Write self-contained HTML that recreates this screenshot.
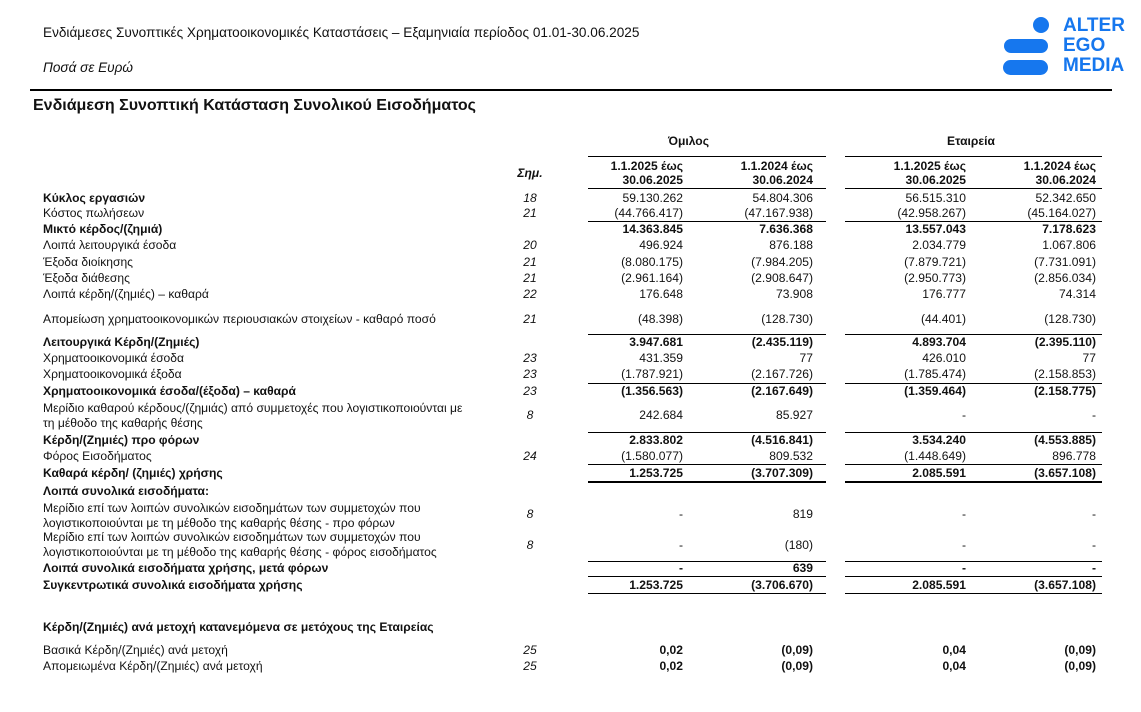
<!DOCTYPE html>
<html><head><meta charset="utf-8"><style>
body{margin:0;width:1141px;height:712px;background:#fff;position:relative;overflow:hidden;font-family:"Liberation Sans","DejaVu Sans",sans-serif;color:#111;}
div{position:absolute;white-space:nowrap;}
.r{font-size:12.1px;line-height:14px;height:14px;left:0;width:1141px;}
.r span{position:absolute;}
.l{left:43px;}
.n{left:510px;width:40px;text-align:center;font-style:italic;}
.a{right:458px;}.b{right:328px;}.c{right:175px;}.d{right:45px;}
.B{font-weight:bold;}
.h{height:1px;background:#000;}
</style></head><body>
<div style="left:43px;top:25px;font-size:13.6px">Ενδιάμεσες Συνοπτικές Χρηματοοικονομικές Καταστάσεις – Εξαμηνιαία περίοδος 01.01-30.06.2025</div>
<div style="left:43px;top:60px;font-size:13.6px;font-style:italic">Ποσά σε Ευρώ</div>
<svg style="position:absolute;left:1000px;top:16px" width="52" height="62"><circle cx="41" cy="9" r="8" fill="#1677ee"/><rect x="4" y="23" width="44" height="14" rx="7" fill="#1677ee"/><rect x="3" y="44" width="45" height="15" rx="7.5" fill="#1677ee"/></svg>
<div style="left:1063px;top:16px;font-size:19px;font-weight:bold;color:#1677ee;line-height:20px">ALTER<br>EGO<br>MEDIA</div>
<div class="h" style="left:30px;top:89px;width:1082px;height:2px"></div>
<div style="left:33px;top:97px;font-size:16px;font-weight:bold">Ενδιάμεση Συνοπτική Κατάσταση Συνολικού Εισοδήματος</div>
<div class="r B" style="top:134px"><span style="left:668px">Όμιλος</span><span style="left:947px">Εταιρεία</span></div>
<div class="h" style="left:588px;top:156px;width:238px"></div><div class="h" style="left:845px;top:156px;width:257px"></div>
<div class="r B" style="top:159px"><span class="a">1.1.2025 έως</span><span class="b">1.1.2024 έως</span><span class="c">1.1.2025 έως</span><span class="d">1.1.2024 έως</span></div>
<div class="r B" style="top:173px"><span class="a">30.06.2025</span><span class="b">30.06.2024</span><span class="c">30.06.2025</span><span class="d">30.06.2024</span><span class="n" style="top:-7px">Σημ.</span></div>
<div class="h" style="left:588px;top:188px;width:238px"></div><div class="h" style="left:845px;top:188px;width:257px"></div>

<div class="r" style="top:191px"><span class="l B">Κύκλος εργασιών</span><span class="n">18</span><span class="a">59.130.262</span><span class="b">54.804.306</span><span class="c">56.515.310</span><span class="d">52.342.650</span></div>
<div class="r" style="top:206px"><span class="l">Κόστος πωλήσεων</span><span class="n">21</span><span class="a">(44.766.417)</span><span class="b">(47.167.938)</span><span class="c">(42.958.267)</span><span class="d">(45.164.027)</span></div>
<div class="h" style="left:588px;top:221px;width:238px"></div><div class="h" style="left:845px;top:221px;width:257px"></div>
<div class="r B" style="top:222px"><span class="l">Μικτό κέρδος/(ζημιά)</span><span class="a">14.363.845</span><span class="b">7.636.368</span><span class="c">13.557.043</span><span class="d">7.178.623</span></div>
<div class="r" style="top:238px"><span class="l">Λοιπά λειτουργικά έσοδα</span><span class="n">20</span><span class="a">496.924</span><span class="b">876.188</span><span class="c">2.034.779</span><span class="d">1.067.806</span></div>
<div class="r" style="top:255px"><span class="l">Έξοδα διοίκησης</span><span class="n">21</span><span class="a">(8.080.175)</span><span class="b">(7.984.205)</span><span class="c">(7.879.721)</span><span class="d">(7.731.091)</span></div>
<div class="r" style="top:271px"><span class="l">Έξοδα διάθεσης</span><span class="n">21</span><span class="a">(2.961.164)</span><span class="b">(2.908.647)</span><span class="c">(2.950.773)</span><span class="d">(2.856.034)</span></div>
<div class="r" style="top:287px"><span class="l">Λοιπά κέρδη/(ζημιές) – καθαρά</span><span class="n">22</span><span class="a">176.648</span><span class="b">73.908</span><span class="c">176.777</span><span class="d">74.314</span></div>
<div class="r" style="top:312px"><span class="l">Απομείωση χρηματοοικονομικών περιουσιακών στοιχείων - καθαρό ποσό</span><span class="n">21</span><span class="a">(48.398)</span><span class="b">(128.730)</span><span class="c">(44.401)</span><span class="d">(128.730)</span></div>
<div class="h" style="left:588px;top:334px;width:238px"></div><div class="h" style="left:845px;top:334px;width:257px"></div>
<div class="r B" style="top:335px"><span class="l">Λειτουργικά Κέρδη/(Ζημιές)</span><span class="a">3.947.681</span><span class="b">(2.435.119)</span><span class="c">4.893.704</span><span class="d">(2.395.110)</span></div>
<div class="r" style="top:351px"><span class="l">Χρηματοοικονομικά έσοδα</span><span class="n">23</span><span class="a">431.359</span><span class="b">77</span><span class="c">426.010</span><span class="d">77</span></div>
<div class="r" style="top:367px"><span class="l">Χρηματοοικονομικά έξοδα</span><span class="n">23</span><span class="a">(1.787.921)</span><span class="b">(2.167.726)</span><span class="c">(1.785.474)</span><span class="d">(2.158.853)</span></div>
<div class="h" style="left:588px;top:383px;width:238px"></div><div class="h" style="left:845px;top:383px;width:257px"></div>
<div class="r B" style="top:384px"><span class="l">Χρηματοοικονομικά έσοδα/(έξοδα) – καθαρά</span><span class="n" style="font-weight:normal">23</span><span class="a">(1.356.563)</span><span class="b">(2.167.649)</span><span class="c">(1.359.464)</span><span class="d">(2.158.775)</span></div>
<div class="r" style="top:401px"><span class="l">Μερίδιο καθαρού κέρδους/(ζημιάς) από συμμετοχές που λογιστικοποιούνται με</span></div>
<div class="r" style="top:408px"><span class="n">8</span><span class="a">242.684</span><span class="b">85.927</span><span class="c">-</span><span class="d">-</span></div>
<div class="r" style="top:416px"><span class="l">τη μέθοδο της καθαρής θέσης</span></div>
<div class="h" style="left:588px;top:432px;width:238px"></div><div class="h" style="left:845px;top:432px;width:257px"></div>
<div class="r B" style="top:433px"><span class="l">Κέρδη/(Ζημιές) προ φόρων</span><span class="a">2.833.802</span><span class="b">(4.516.841)</span><span class="c">3.534.240</span><span class="d">(4.553.885)</span></div>
<div class="r" style="top:449px"><span class="l">Φόρος Εισοδήματος</span><span class="n">24</span><span class="a">(1.580.077)</span><span class="b">809.532</span><span class="c">(1.448.649)</span><span class="d">896.778</span></div>
<div class="h" style="left:588px;top:464px;width:238px"></div><div class="h" style="left:845px;top:464px;width:257px"></div>
<div class="r B" style="top:466px"><span class="l">Καθαρά κέρδη/ (ζημιές) χρήσης</span><span class="a">1.253.725</span><span class="b">(3.707.309)</span><span class="c">2.085.591</span><span class="d">(3.657.108)</span></div>
<div class="h" style="left:588px;top:481px;width:238px;height:2px"></div><div class="h" style="left:845px;top:481px;width:257px;height:2px"></div>
<div class="r B" style="top:484px"><span class="l">Λοιπά συνολικά εισοδήματα:</span></div>
<div class="r" style="top:501px"><span class="l">Μερίδιο επί των λοιπών συνολικών εισοδημάτων των συμμετοχών που</span></div>
<div class="r" style="top:507px"><span class="n">8</span><span class="a">-</span><span class="b">819</span><span class="c">-</span><span class="d">-</span></div>
<div class="r" style="top:516px"><span class="l">λογιστικοποιούνται με τη μέθοδο της καθαρής θέσης - προ φόρων</span></div>
<div class="r" style="top:530px"><span class="l">Μερίδιο επί των λοιπών συνολικών εισοδημάτων των συμμετοχών που</span></div>
<div class="r" style="top:538px"><span class="n">8</span><span class="a">-</span><span class="b">(180)</span><span class="c">-</span><span class="d">-</span></div>
<div class="r" style="top:545px"><span class="l">λογιστικοποιούνται με τη μέθοδο της καθαρής θέσης - φόρος εισοδήματος</span></div>
<div class="h" style="left:588px;top:561px;width:238px"></div><div class="h" style="left:845px;top:561px;width:257px"></div>
<div class="r B" style="top:561px"><span class="l">Λοιπά συνολικά εισοδήματα χρήσης, μετά φόρων</span><span class="a">-</span><span class="b">639</span><span class="c">-</span><span class="d">-</span></div>
<div class="h" style="left:588px;top:576px;width:238px"></div><div class="h" style="left:845px;top:576px;width:257px"></div>
<div class="r B" style="top:578px"><span class="l">Συγκεντρωτικά συνολικά εισοδήματα χρήσης</span><span class="a">1.253.725</span><span class="b">(3.706.670)</span><span class="c">2.085.591</span><span class="d">(3.657.108)</span></div>
<div class="h" style="left:588px;top:593px;width:238px"></div><div class="h" style="left:845px;top:593px;width:257px"></div>
<div class="r B" style="top:620px"><span class="l">Κέρδη/(Ζημιές) ανά μετοχή κατανεμόμενα σε μετόχους της Εταιρείας</span></div>
<div class="r" style="top:643px"><span class="l">Βασικά Κέρδη/(Ζημιές) ανά μετοχή</span><span class="n">25</span><span class="a B">0,02</span><span class="b B">(0,09)</span><span class="c B">0,04</span><span class="d B">(0,09)</span></div>
<div class="r" style="top:659px"><span class="l">Απομειωμένα Κέρδη/(Ζημιές) ανά μετοχή</span><span class="n">25</span><span class="a B">0,02</span><span class="b B">(0,09)</span><span class="c B">0,04</span><span class="d B">(0,09)</span></div>
</body></html>
